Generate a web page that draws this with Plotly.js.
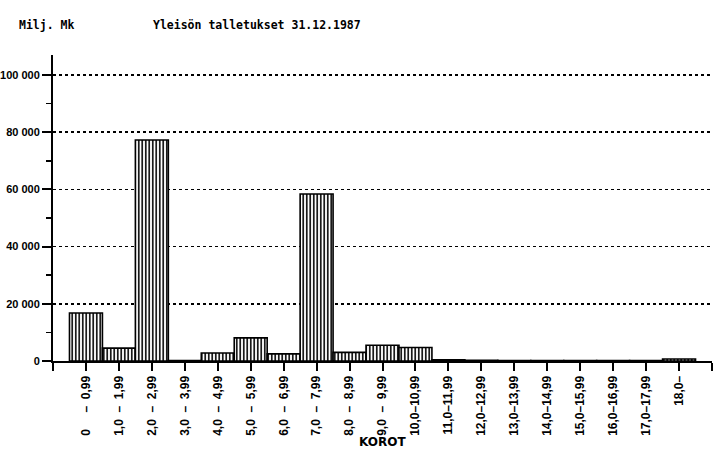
<!DOCTYPE html>
<html>
<head>
<meta charset="utf-8">
<script src="https://cdn.plot.ly/plotly-3.0.1.min.js"></script>
<style>
  html, body { margin: 0; padding: 0; background: #fff; }
  #chart { width: 713px; height: 449px; }
</style>
</head>
<body>
<div id="chart"></div>
<script>
// Interest-rate classes (KOROT), %
const categories = [
  "0     –  0,99", "1,0  –  1,99", "2,0  –  2,99", "3,0  –  3,99", "4,0  –  4,99",
  "5,0  –  5,99", "6,0  –  6,99", "7,0  –  7,99", "8,0  –  8,99", "9,0  –  9,99",
  "10,0–10,99", "11,0–11,99", "12,0–12,99", "13,0–13,99", "14,0–14,99",
  "15,0–15,99", "16,0–16,99", "17,0–17,99", "18,0–"
];
// Deposits, Milj. Mk
const deposits = [16800, 4500, 77300, 200, 2800, 8100, 2500, 58400, 3000, 5500,
                  4700, 400, 250, 200, 150, 150, 200, 200, 700];
const yTickValues = [0, 20000, 40000, 60000, 80000, 100000];
const yTickLabels = ["0", "20 000", "40 000", "60 000", "80 000", "100 000"];

const xPos = categories.map((_, i) => i);
const tickVals = [-1].concat(xPos).concat([categories.length]);
const tickText = [""].concat(categories.map(s => s.replace(/ /g, "\u00a0"))).concat([""]);

const tickFont = { family: "Liberation Sans, Arial, sans-serif", size: 12, weight: "bold", color: "#000" };
const yTickFont = { family: "Liberation Sans, Arial, sans-serif", size: 11, weight: "bold", color: "#000" };
const monoFont = { family: "DejaVu Sans Mono, Liberation Mono, monospace", size: 11.5, weight: "bold", color: "#000" };

const trace = {
  type: "bar",
  x: xPos,
  y: deposits,
  width: 1,
  marker: {
    color: "#fff",
    line: { color: "#000", width: 1.6 },
    pattern: { shape: "|", fgcolor: "#000", bgcolor: "#fff", size: 3.5, solidity: 0.45 }
  },
  hoverinfo: "skip"
};

const layout = {
  width: 713, height: 449,
  margin: { l: 53, r: 1, t: 55, b: 88, pad: 0 },
  paper_bgcolor: "#fff", plot_bgcolor: "#fff",
  showlegend: false,
  bargap: 0,
  title: {
    text: "Yleisön talletukset 31.12.1987",
    font: monoFont,
    xref: "container", yref: "container",
    x: 153 / 713, xanchor: "left",
    y: 1 - 25 / 449, yanchor: "middle"
  },
  xaxis: {
    range: [-1, categories.length],
    tickmode: "array", tickvals: tickVals, ticktext: tickText,
    tickangle: -90,
    ticks: "outside", ticklen: 8, tickwidth: 2, tickcolor: "#000",
    showline: true, linecolor: "#000", linewidth: 2,
    showgrid: false, zeroline: false,
    tickfont: tickFont,
    fixedrange: true
  },
  yaxis: {
    range: [0, 107000],
    tickmode: "array", tickvals: yTickValues, ticktext: yTickLabels,
    ticks: "outside", ticklen: 9, tickwidth: 2, tickcolor: "#000",
    minor: { tickmode: "linear", tick0: 0, dtick: 10000, ticks: "outside", ticklen: 5, tickwidth: 1.5, tickcolor: "#000", showgrid: false },
    showline: true, linecolor: "#000", linewidth: 2,
    showgrid: true, gridcolor: "#000", gridwidth: 1.5, griddash: "dot",
    zeroline: false,
    tickfont: yTickFont,
    fixedrange: true
  },
  annotations: [
    {
      text: "Milj. Mk", font: monoFont, showarrow: false,
      xref: "paper", yref: "paper", x: 0, y: 1,
      xshift: -36, yshift: 30, xanchor: "left", yanchor: "middle"
    },
    {
      text: "KOROT", font: { family: "DejaVu Sans, sans-serif", size: 12, weight: "bold", color: "#000" },
      showarrow: false,
      xref: "paper", yref: "paper", x: 0.5, y: 0,
      yshift: -81, xanchor: "center", yanchor: "middle"
    }
  ]
};

Plotly.newPlot("chart", [trace], layout, { staticPlot: true, displayModeBar: false });
</script>
</body>
</html>
